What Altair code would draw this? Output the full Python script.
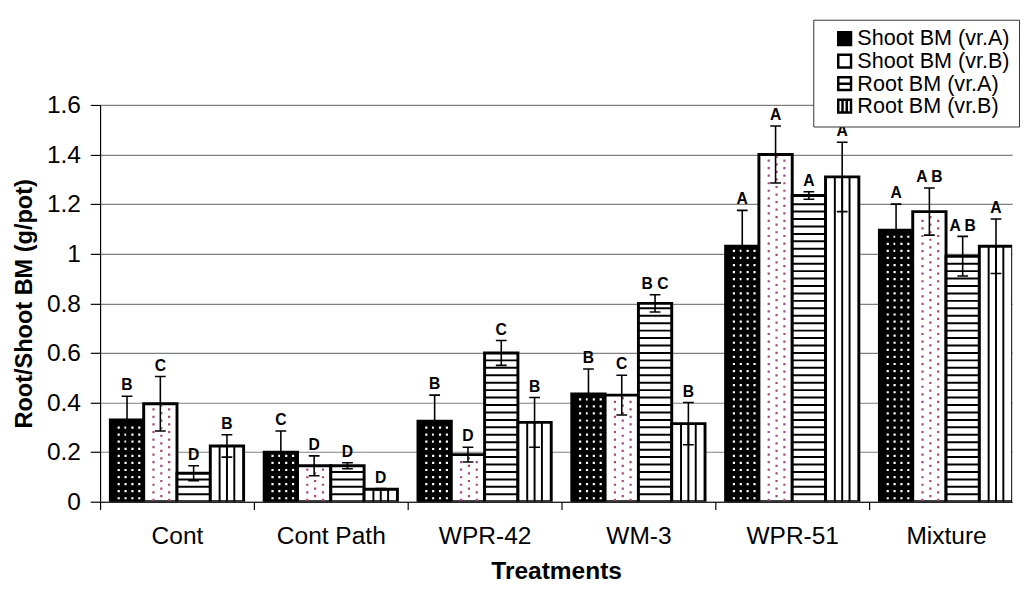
import altair as alt
import pandas as pd

# ---------------- data ----------------
treatments = ["Cont", "Cont Path", "WPR-42", "WM-3", "WPR-51", "Mixture"]
series = ["Shoot BM (vr.A)", "Shoot BM (vr.B)", "Root BM (vr.A)", "Root BM (vr.B)"]

shoot_a = [0.33, 0.20, 0.325, 0.435, 1.03, 1.095]
shoot_a_err = [0.095, 0.085, 0.105, 0.10, 0.145, 0.105]
shoot_b = [0.395, 0.145, 0.19, 0.43, 1.40, 1.17]
shoot_b_err = [0.11, 0.04, 0.03, 0.08, 0.115, 0.095]
root_a = [0.115, 0.145, 0.60, 0.80, 1.235, 0.99]
root_a_err = [0.03, 0.012, 0.05, 0.035, 0.015, 0.08]
root_b = [0.225, 0.05, 0.32, 0.315, 1.31, 1.03]
root_b_err = [0.045, 0.003, 0.10, 0.085, 0.14, 0.11]

letters_shoot_a = ["B", "C", "B", "B", "A", "A"]
letters_shoot_b = ["C", "D", "D", "C", "A", "A B"]
letters_root_a = ["D", "D", "C", "B C", "A", "A B"]
letters_root_b = ["B", "D", "B", "B", "A", "A"]

values_by_series = [shoot_a, shoot_b, root_a, root_b]
errors_by_series = [shoot_a_err, shoot_b_err, root_a_err, root_b_err]
letters_by_series = [letters_shoot_a, letters_shoot_b, letters_root_a, letters_root_b]

records = []
for i, name in enumerate(treatments):
    for j in range(len(series)):
        records.append({
            "t": i, "s": j, "treatment": name, "series": series[j],
            "value": values_by_series[j][i], "err": errors_by_series[j][i],
            "letter": letters_by_series[j][i],
        })
df = pd.DataFrame(records)

# ---------------- layout / style ----------------
FONT = "Liberation Sans"
G = 157.0            # pixels per treatment group
PLOT_W = 931
PLOT_H = 405
X_MAX = PLOT_W / G
xscale = alt.Scale(domain=[0, X_MAX], nice=False, zero=False)
yscale = alt.Scale(domain=[0, 1.6], nice=False)

# label for the group starting at integer position datum.value
label_expr = "''"
for k in range(len(treatments) - 1, -1, -1):
    label_expr = f"datum.value < {k + 0.5} ? '{treatments[k]}' : ({label_expr})"

xaxis = alt.Axis(
    title="Treatments", titleFontSize=25, titleFontWeight="bold", titlePadding=10,
    values=list(range(len(treatments))),
    labelExpr=label_expr, labelOffset=G / 2,
    labelFontSize=25, labelPadding=15, labelOverlap=False, labelFlush=False, labelBound=False,
    tickSize=8, tickColor="black", tickWidth=1.2,
    domainColor="black", domainWidth=1.2, grid=False,
)
yaxis = alt.Axis(
    title="Root/Shoot BM (g/pot)", titleFontSize=24, titleFontWeight="bold", titlePadding=10,
    values=[0, 0.2, 0.4, 0.6, 0.8, 1.0, 1.2, 1.4, 1.6], format="~g",
    labelFontSize=25, labelPadding=10, tickSize=10, tickColor="black", tickWidth=1.2,
    domainColor="black", domainWidth=1.2, grid=True, gridColor="#808080", gridWidth=1.2,
)

legend_shapes = [
    "M-1,-1H1V1H-1Z",
    "M-1,-1H1V1H-1Z",
    "M-1,-1H1V1H-1Z M-1,0H1",
    "M-1,-1H1V1H-1Z M-0.33,-1V1 M0.33,-1V1",
]
legend = alt.Legend(
    title=None, orient="none", legendX=728, legendY=-87, direction="vertical",
    fillColor="white", strokeColor="#333333", padding=9, symbolOffset=12,
    labelFont=FONT, labelFontSize=22, labelColor="black", labelLimit=400, labelOffset=2,
    symbolSize=170, symbolStrokeWidth=2.5, symbolStrokeColor="black",
    rowPadding=0, clipHeight=20.5,
)

fills = ["black", "white", "white", "white"]
color_scale = alt.Scale(domain=series, range=fills)
shape_scale = alt.Scale(domain=series, range=legend_shapes)


def X(field):
    return alt.X(field, scale=xscale, axis=xaxis)


def Y(field):
    return alt.Y(field, scale=yscale, axis=yaxis)


base = alt.Chart(df).transform_calculate(
    x0=f"datum.t + (10.5 + datum.s * 34) / {G}",
    x1=f"datum.t + (44.5 + datum.s * 34) / {G}",
    xc=f"datum.t + (27.5 + datum.s * 34) / {G}",
    cl=f"datum.t + (22 + datum.s * 34) / {G}",
    cr=f"datum.t + (33 + datum.s * 34) / {G}",
    lo="datum.value - datum.err",
    hi="datum.value + datum.err",
)

bars = base.mark_bar(stroke="black", strokeWidth=3, clip=True).encode(
    x=X("x0:Q"),
    x2="x1:Q",
    y=Y("value:Q"),
    y2=alt.datum(0),
    color=alt.Color("series:N", scale=color_scale, legend=legend),
)

# legend carrier (no visible marks: data filtered out)
legend_layer = base.transform_filter("datum.t < 0").mark_point(
    filled=True, stroke="black", strokeWidth=2.5, opacity=1, clip=True
).encode(
    x=X("xc:Q"),
    y=Y("value:Q"),
    color=alt.Color("series:N", scale=color_scale, legend=legend),
    shape=alt.Shape("series:N", scale=shape_scale, legend=legend),
)

# Shoot BM (vr.A): white dots on black
dots_a = base.transform_filter("datum.s == 0").transform_calculate(
    yy="sequence(0.014, datum.value - 0.012, 0.0285)",
    cx="[8.5, 15.5, 22.5, 29.5]",
).transform_flatten(["yy"]).transform_flatten(["cx"]).transform_calculate(
    xd=f"datum.t + (10.5 + datum.s * 34 + datum.cx) / {G}"
).mark_square(size=5, color="white", opacity=1, clip=True).encode(
    x=X("xd:Q"),
    y=Y("yy:Q"),
)

# Shoot BM (vr.B): staggered pink dots on white
dots_b = base.transform_filter("datum.s == 1").transform_calculate(
    rows="sequence(0, floor((datum.value - 0.015) / 0.0152) + 1)",
).transform_flatten(["rows"]).transform_calculate(
    yy="(datum.rows + 0.5) * 0.0152",
    cx="datum.rows % 2 == 0 ? [10, 26] : [18]",
).transform_flatten(["cx"]).transform_calculate(
    xd=f"datum.t + (10.5 + datum.s * 34 + datum.cx) / {G}"
).mark_square(size=5, color="#a8467c", opacity=1, clip=True).encode(
    x=X("xd:Q"),
    y=Y("yy:Q"),
)

# Root BM (vr.A): horizontal stripes
stripes = base.transform_filter("datum.s == 2").transform_calculate(
    yy="sequence(0.0300, datum.value - 0.01, 0.0300)",
).transform_flatten(["yy"]).mark_rule(color="black", strokeWidth=2, clip=True).encode(
    x=X("x0:Q"),
    x2="x1:Q",
    y=Y("yy:Q"),
)

# Root BM (vr.B): vertical stripes
vlines = base.transform_filter("datum.s == 3").transform_calculate(
    cx="[9.5, 17, 24.5]",
).transform_flatten(["cx"]).transform_calculate(
    xd=f"datum.t + (10.5 + datum.s * 34 + datum.cx) / {G}"
).mark_rule(color="black", strokeWidth=2, clip=True).encode(
    x=X("xd:Q"),
    y=Y("value:Q"),
    y2=alt.datum(0),
)

err_v = base.mark_rule(color="black", strokeWidth=1.6, clip=True).encode(
    x=X("xc:Q"),
    y=Y("lo:Q"),
    y2="hi:Q",
)
cap_hi = base.mark_rule(color="black", strokeWidth=1.6, clip=True).encode(
    x=X("cl:Q"),
    x2="cr:Q",
    y=Y("hi:Q"),
)
cap_lo = base.mark_rule(color="black", strokeWidth=1.6, clip=True).encode(
    x=X("cl:Q"),
    x2="cr:Q",
    y=Y("lo:Q"),
)
letters = base.mark_text(
    font=FONT, fontSize=16, fontWeight="bold", color="black",
    baseline="bottom", dy=-3, clip=True,
).encode(
    x=X("xc:Q"),
    y=Y("hi:Q"),
    text="letter:N",
)

chart = alt.layer(
    bars, dots_a, dots_b, stripes, vlines, err_v, cap_hi, cap_lo, letters, legend_layer
).properties(
    width=PLOT_W, height=PLOT_H,
    padding={"left": 5, "top": 5, "right": 0, "bottom": -5},
).configure(
    font=FONT,
).configure_view(
    stroke=None,
).configure_axis(
    labelColor="black", titleColor="black", labelFont=FONT, titleFont=FONT,
)

chart.save("out.html", embed_options={"renderer": "svg", "actions": False})
